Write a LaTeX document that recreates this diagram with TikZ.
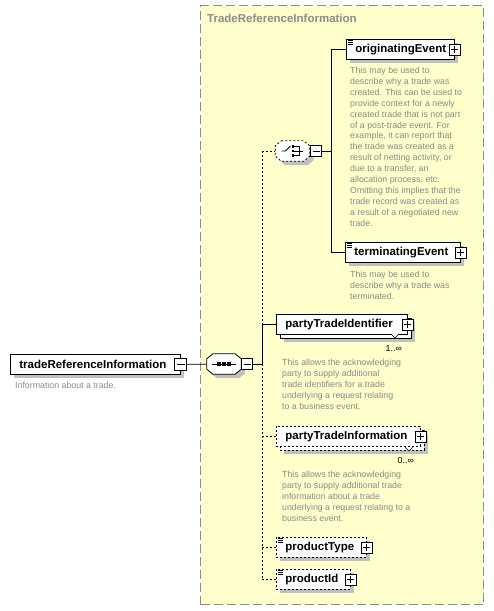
\documentclass[tikz,border=0pt]{standalone}
\usepackage{fontspec}
\setmainfont{Liberation Sans}
\usetikzlibrary{shadows}
\definecolor{grpfill}{HTML}{FFFFCC}
\definecolor{grpline}{HTML}{8C8C8C}
\definecolor{doctext}{HTML}{8A8A8A}
\definecolor{shadowgray}{HTML}{C0C0C0}
\newcommand{\elemfont}{\bfseries\fontsize{11.5}{13}\selectfont}
\newcommand{\docfont}{\fontsize{8.8}{10.9}\selectfont}
\tikzset{
  optline/.style={dash pattern=on 2pt off 2pt},
  boxshadow/.style={drop shadow={shadow xshift=4pt,shadow yshift=-4pt,fill=shadowgray,opacity=1}},
  elembase/.style={draw,fill=white,line width=0.8pt,anchor=north west,minimum height=20pt,
    inner xsep=9pt,inner ysep=0pt,align=left,font=\elemfont},
  elem/.style={elembase,boxshadow},
  optelem/.style={elem,optline},
  xbox/.style={draw,fill=white,line width=0.8pt,minimum size=11pt,inner sep=0pt},
  minusbox/.style={xbox,path picture={
    \draw[line width=0.8pt] ([xshift=2pt]path picture bounding box.west) -- ([xshift=-2pt]path picture bounding box.east);}},
  plusbox/.style={xbox,path picture={
    \draw[line width=0.8pt] ([xshift=2pt]path picture bounding box.west) -- ([xshift=-2pt]path picture bounding box.east)
      ([yshift=-2pt]path picture bounding box.north) -- ([yshift=2pt]path picture bounding box.south);}},
  compositor/.style={rectangle,minimum width=34pt,minimum height=20pt,inner sep=0pt},
  compbody/.style={draw,fill=white,line width=0.8pt,boxshadow},
  grpbox/.style={draw=grpline,fill=grpfill,line width=1pt,dash pattern=on 9pt off 4pt,anchor=north west,inner sep=0pt},
  grptitle/.style={anchor=west,inner sep=0pt,text=grpline,font=\elemfont},
  doc/.style={anchor=north west,inner sep=0pt,align=left,text=doctext,font=\docfont},
  occur/.style={anchor=east,inner sep=0pt,font=\docfont},
  conn/.style={line width=0.8pt},
  optconn/.style={conn,optline}
}
\begin{document}
\begin{tikzpicture}[x=1pt,y=-1pt]
\useasboundingbox (0,0) rectangle (494,611);
% complex type group
\node[grpbox,minimum width=283pt,minimum height=599pt] (grp) at (200,5) {};
\node[grptitle] (grp-title) at (207,18) {TradeReferenceInformation};

% root element
\node[elem,text width=152pt] (root) at (10,354) {tradeReferenceInformation};
\node[minusbox,minimum size=12pt] (root-x) at (root.east) {};
\node[doc] (root-doc) at (15,382) {Information about a trade.};

% compositors
\node[compositor] (seq) at (224,364) {};
\node[compositor] (choice) at (292.5,151) {};
\foreach \n/\s in {seq/solid,choice/optline}
  \draw[compbody,\s] ([xshift=6pt]\n.north west) -- ([xshift=-6pt]\n.north east)
    -- ([yshift=-5pt]\n.north east) -- ([yshift=5pt]\n.south east)
    -- ([xshift=-6pt]\n.south east) -- ([xshift=6pt]\n.south west)
    -- ([yshift=5pt]\n.south west) -- ([yshift=-5pt]\n.north west) -- cycle;

% sequence symbol
\draw[conn] ([xshift=-12pt]seq.center) -- ([xshift=12pt]seq.center);
\foreach \dx in {-5,0,5}
  \fill ([xshift=\dx pt]seq.center) +(-1.6,-1.6) rectangle +(1.6,1.6);
\node[minusbox] (seq-x) at (247,364) {};
\coordinate (bus) at (262,364);

% choice symbol
\draw[conn] ([xshift=-11pt]choice.center) -- ++(4,0) -- ++(5,-5);
\foreach \dy in {-4.5,0,4.5} {
  \fill ([xshift=0.5pt,yshift=-\dy pt]choice.center) +(-1.3,-1.3) rectangle +(1.3,1.3);
  \draw[conn] ([xshift=1.8pt,yshift=-\dy pt]choice.center) -- ++(4.7,0);
}
\draw[conn] ([xshift=6.5pt,yshift=4.9pt]choice.center) -- ([xshift=6.5pt,yshift=-4.9pt]choice.center)
  ([xshift=6.5pt]choice.center) -- ++(4,0);
\node[minusbox] (choice-x) at (316,151) {};
\coordinate (cbus) at (331,151);

% children of the choice
\node[elem,text width=90pt] (orig) at (346,39) {originatingEvent};
\node[plusbox] (orig-x) at (orig.east) {};
\node[doc] (orig-doc) at (350,67) {This may be used to\\describe why a trade was\\created. This can be used to\\provide context for a newly\\created trade that is not part\\of a post-trade event. For\\example, it can report that\\the trade was created as a\\result of netting activity, or\\due to a transfer, an\\allocation process, etc.\\Omitting this implies that the\\trade record was created as\\a result of a negotiated new\\trade.};

\node[elem,text width=97pt] (term) at (345,242) {terminatingEvent};
\node[plusbox] (term-x) at (term.east) {};
\node[doc] (term-doc) at (350,271) {This may be used to\\describe why a trade was\\terminated.};

% children of the sequence
\node[elem,text width=113pt] (pti-back) at (280,318) {};
\node[elembase,text width=113pt] (pti) at (276,314) {partyTradeIdentifier};
\node[plusbox] (pti-x) at (pti.east) {};
\draw[fill=white,line width=0.6pt] (391,334) -- (395,338) -- (399,334);
\node[occur] (pti-occ) at (402,348) {1..∞};
\node[doc] (pti-doc) at (282,359) {This allows the acknowledging\\party to supply additional\\trade identifiers for a trade\\underlying a request relating\\to a business event.};

\node[optelem,text width=126pt] (pinfo-back) at (280,430) {};
\node[elembase,optline,text width=126pt] (pinfo) at (276,426) {partyTradeInformation};
\node[plusbox] (pinfo-x) at (pinfo.east) {};
\draw[fill=white,line width=0.6pt] (405,447) -- (409,451) -- (413,447);
\node[occur] (pinfo-occ) at (414,460) {0..∞};
\node[doc] (pinfo-doc) at (282,471) {This allows the acknowledging\\party to supply additional trade\\information about a trade\\underlying a request relating to a\\business event.};

\node[optelem,text width=72pt] (ptype) at (276,537) {productType};
\node[plusbox] (ptype-x) at (ptype.east) {};

\node[optelem,text width=56pt] (pid) at (276,569) {productId};
\node[plusbox] (pid-x) at (pid.east) {};

% simple content marks
\foreach \n in {orig,term,ptype,pid}
  \foreach \d in {1.5,3.3,5.1}
    \draw[line width=0.5pt] ([xshift=1.5pt,yshift=-\d pt]\n.north west) -- ++(5,0);

% connectors
\draw[conn] (root-x) -- (seq);
\draw[conn] (seq-x) -- (bus);
\draw[optconn] (choice -| bus) -- (pti -| bus);
\draw[conn] (pti -| bus) -- (bus);
\draw[optconn] (bus) -- (pid -| bus);
\draw[optconn] (choice -| bus) -- (choice);
\draw[conn] (pti -| bus) -- (pti);
\draw[optconn] (pinfo -| bus) -- (pinfo);
\draw[optconn] (ptype -| bus) -- (ptype);
\draw[optconn] (pid -| bus) -- (pid);
\draw[conn] (choice-x) -- (cbus);
\draw[conn] (orig -| cbus) -- (term -| cbus);
\draw[conn] (orig -| cbus) -- (orig);
\draw[conn] (term -| cbus) -- (term);
\end{tikzpicture}
\end{document}
